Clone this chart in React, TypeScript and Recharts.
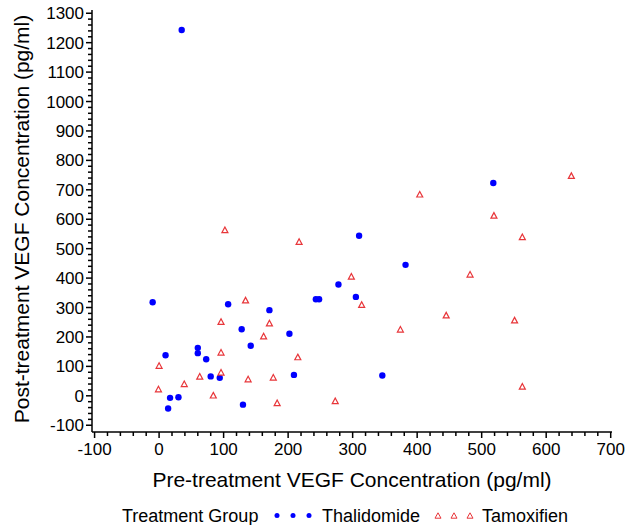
import React from "react";
import { ScatterChart, Scatter, XAxis, YAxis, Legend } from "recharts";

// values (pg/ml)
const thalidomidePre = [-10, 107, 171, 128, 202, 142, 60, 60, 10, 73, 80, 94, 209, 17, 30, 14, 130, 243, 248, 278, 305, 310, 35, 518, 382, 346];
const thalidomidePost = [318, 311, 291, 226, 211, 170, 163, 145, 138, 124, 66, 61, 71, -7, -5, -43, -30, 328, 328, 378, 336, 544, 1243, 723, 445, 69];

const tamoxifenPre = [102, 217, 298, 134, 96, 171, 162, 96, 215, 0, 96, 63, 138, 177, 39, -1, 84, 183, 273, 639, 404, 519, 563, 482, 314, 445, 551, 374, 563];
const tamoxifenPost = [562, 522, 404, 323, 250, 245, 201, 146, 130, 101, 78, 64, 55, 61, 39, 21, 0, -26, -19, 746, 683, 611, 538, 411, 308, 272, 255, 224, 30];

const xMajor = [-100, 0, 100, 200, 300, 400, 500, 600, 700];
const yMajor = [-100, 0, 100, 200, 300, 400, 500, 600, 700, 800, 900, 1000, 1100, 1200, 1300];

const minorTicks = (major: number[]) => {
  const out: number[] = [];
  for (let i = 0; i < major.length - 1; i++) {
    for (let k = 0; k < 5; k++) out.push(major[i] + k * 20);
  }
  out.push(major[major.length - 1]);
  return out;
};

const thalData = thalidomidePre.map((x, i) => ({ x, y: thalidomidePost[i] }));
const tamData = tamoxifenPre.map((x, i) => ({ x, y: tamoxifenPost[i] }));

const FONT = "'Liberation Sans', Arial, Helvetica, sans-serif";
const BLUE = "#0000ff";
const RED = "#e8363a";

const XTick = (props: any) => {
  const { x, y, payload } = props;
  const v = payload.value;
  const major = v % 100 === 0;
  return (
    <g>
      <line x1={x} x2={x} y1={y} y2={y + (major ? 6 : 4)} stroke="#000" strokeWidth={1.5} />
      {major && (
        <text x={x} y={y + 23} textAnchor="middle" fontSize={17} fontFamily={FONT} fill="#000">
          {v}
        </text>
      )}
    </g>
  );
};

const YTick = (props: any) => {
  const { x, y, payload } = props;
  const v = payload.value;
  const major = v % 100 === 0;
  return (
    <g>
      <line x1={x} x2={x - (major ? 6 : 4)} y1={y} y2={y} stroke="#000" strokeWidth={1.5} />
      {major && (
        <text x={x - 8} y={y + 6} textAnchor="end" fontSize={17} fontFamily={FONT} fill="#000">
          {v}
        </text>
      )}
    </g>
  );
};

const Dot = (p: any) => <circle cx={p.cx} cy={p.cy} r={3.2} fill={BLUE} />;

const Tri = (p: any) => (
  <path
    d={`M${p.cx},${p.cy - 3.4}L${p.cx + 3},${p.cy + 2.2}L${p.cx - 3},${p.cy + 2.2}Z`}
    fill="#fff"
    stroke={RED}
    strokeWidth={1.2}
  />
);

const LegendBox = () => (
  <svg width={640} height={25} style={{ display: "block" }}>
    <g fontFamily={FONT} fontSize={18} fill="#000">
      <text x={122} y={21.5}>Treatment Group</text>
      {[277, 293, 309].map((cx) => (
        <circle key={cx} cx={cx} cy={15.5} r={2.5} fill={BLUE} />
      ))}
      <text x={322} y={21.5}>Thalidomide</text>
      {[438, 454, 470].map((cx) => (
        <path key={cx} d={`M${cx},${12.8}L${cx + 3},${18.2}L${cx - 3},${18.2}Z`} fill="#fff" stroke={RED} strokeWidth={1} />
      ))}
      <text x={482} y={21.5}>Tamoxifien</text>
    </g>
  </svg>
);

export default function App() {
  return (
    <div style={{ position: "absolute", left: 0, top: 0, width: 640, height: 525, background: "#fff" }}>
      <ScatterChart width={640} height={525} margin={{ top: 10, right: 28, bottom: 0, left: 0 }}>
        <XAxis
          type="number"
          dataKey="x"
          domain={[-104, 702]}
          ticks={minorTicks(xMajor)}
          interval={0}
          allowDataOverflow
          height={68}
          tickSize={0}
          tickMargin={0}
          tickLine={false}
          tick={<XTick />}
          axisLine={{ stroke: "#000", strokeWidth: 1.5 }}
          label={{
            content: (lp: any) => {
              const vb = lp.viewBox;
              return (
                <text x={vb.x + vb.width / 2} y={487} textAnchor="middle" fontSize={21} fontFamily={FONT} fill="#000">
                  Pre-treatment VEGF Concentration (pg/ml)
                </text>
              );
            },
          }}
        />
        <YAxis
          type="number"
          dataKey="y"
          domain={[-123, 1311]}
          ticks={minorTicks(yMajor)}
          interval={0}
          allowDataOverflow
          width={92}
          tickSize={0}
          tickMargin={0}
          tickLine={false}
          tick={<YTick />}
          axisLine={{ stroke: "#000", strokeWidth: 1.5 }}
          label={{
            content: (lp: any) => {
              const vb = lp.viewBox;
              const cy = vb.y + vb.height / 2 - 2;
              return (
                <text
                  x={21.5}
                  y={cy}
                  dy="0.34em"
                  transform={`rotate(-90, 21.5, ${cy})`}
                  textAnchor="middle"
                  fontSize={21}
                  fontFamily={FONT}
                  fill="#000"
                >
                  Post-treatment VEGF Concentration (pg/ml)
                </text>
              );
            },
          }}
        />
        <Legend verticalAlign="bottom" height={25} content={() => <LegendBox />} wrapperStyle={{ left: 0, width: 640 }} />
        <Scatter name="Thalidomide" data={thalData} shape={<Dot />} isAnimationActive={false} />
        <Scatter name="Tamoxifien" data={tamData} shape={<Tri />} isAnimationActive={false} />
      </ScatterChart>
    </div>
  );
}
